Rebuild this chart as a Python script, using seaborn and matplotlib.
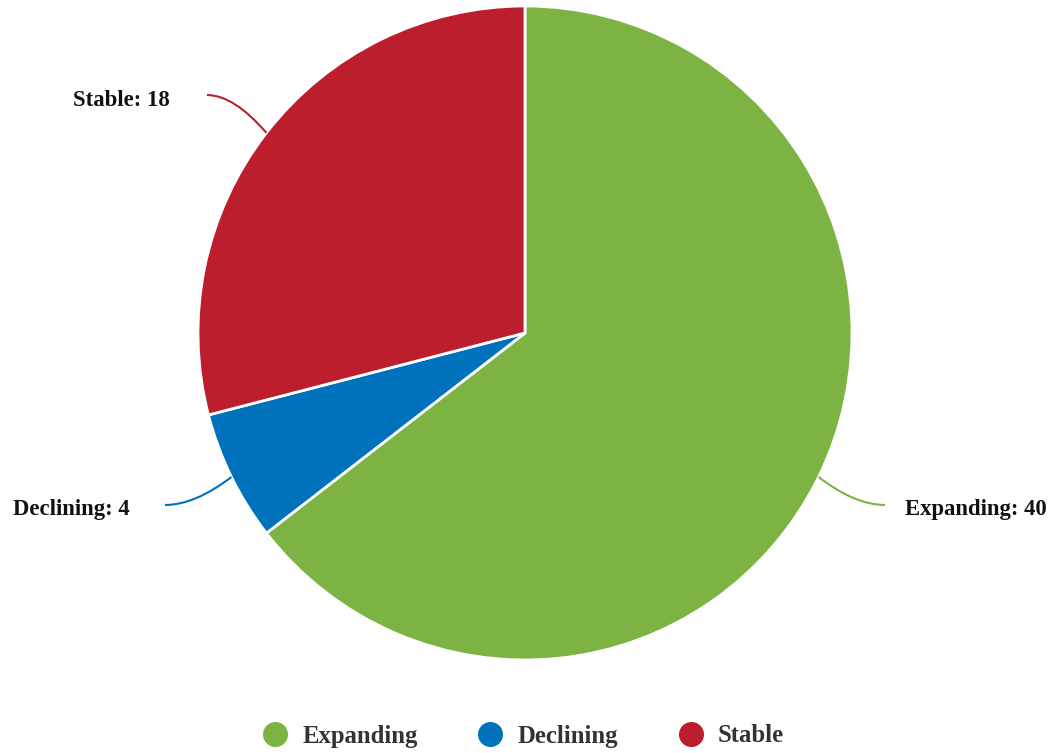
import numpy as np
import matplotlib
matplotlib.use("Agg")
import matplotlib.pyplot as plt
from matplotlib.path import Path
from matplotlib.patches import PathPatch
from matplotlib.lines import Line2D
import seaborn as sns

# Data
categories = ["Expanding", "Declining", "Stable"]
values = [40, 4, 18]
colors = ["#7CB342", "#0072BC", "#BC1E2D"]

sns.set_theme(style="white")
plt.rcParams["font.family"] = ["Liberation Serif", "DejaVu Serif"]
sns.set_palette(colors)

W, H = 1053, 753
fig = plt.figure(figsize=(W / 100, H / 100), dpi=100)

# Pie area: centre (525, 333) px, radius 327 px
cx, cy, r = 525, 333, 327
ax = fig.add_axes([(cx - r) / W, (H - cy - r) / H, 2 * r / W, 2 * r / H])

palette = sns.color_palette(colors)
wedges, _ = ax.pie(values, colors=palette, startangle=90, counterclock=False,
                   radius=1.0, center=(0, 0),
                   wedgeprops=dict(edgecolor="white", linewidth=2))
ax.set_xlim(-1, 1)
ax.set_ylim(-1, 1)
ax.set_aspect("equal")
ax.axis("off")

# Label placement (axes data units), alignment and connector gap (px)
label_pos = {
    "Expanding": ((905 - cx) / r, -(510 - cy) / r, "left", 20),
    "Declining": ((130 - cx) / r, -(510 - cy) / r, "right", 35),
    "Stable": ((170 - cx) / r, -(100 - cy) / r, "right", 37),
}

for w, cat, val, col in zip(wedges, categories, values, palette):
    mid = np.deg2rad((w.theta1 + w.theta2) / 2)
    sx, sy = np.cos(mid), np.sin(mid)
    tx, ty, ha, gap_px = label_pos[cat]
    gap = gap_px / r
    ex = tx - gap if ha == "left" else tx + gap
    ey = ty + 5 / r
    ctrl = (sx + 0.55 * (ex - sx), ey)
    path = Path([(sx, sy), ctrl, (ex, ey)], [Path.MOVETO, Path.CURVE3, Path.CURVE3])
    ax.add_patch(PathPatch(path, facecolor="none", edgecolor=col, lw=1.5,
                           clip_on=False))
    ax.text(tx, ty, f"{cat}: {val}", ha=ha, va="center", fontsize=16.4,
            fontweight="bold", color="#111111", clip_on=False)

handles = [Line2D([0], [0], marker="o", linestyle="none", markersize=17,
                  markerfacecolor=c, markeredgecolor=c) for c in palette]
leg = fig.legend(handles, categories, loc="center", bbox_to_anchor=(517 / W, 1 - 736 / H),
                 ncol=3, frameon=False, handletextpad=0.08, columnspacing=1.95,
                 prop=dict(size=17.8, weight="bold"))
for t in leg.get_texts():
    t.set_color("#333333")

fig.savefig("out.png", dpi=100, facecolor="white")
